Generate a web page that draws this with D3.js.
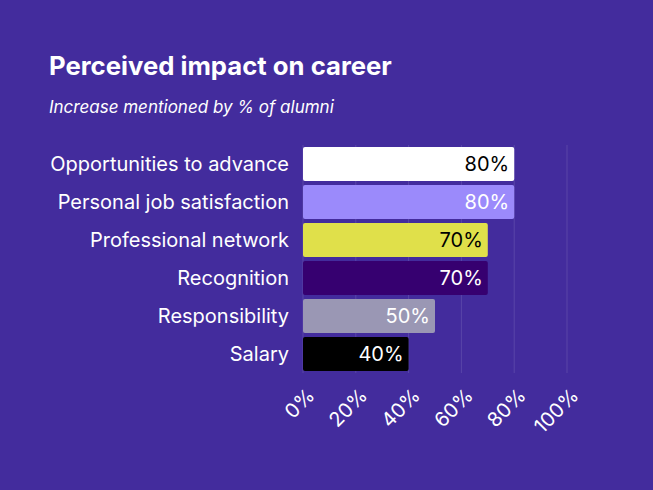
<!DOCTYPE html>
<html>
<head>
<meta charset="utf-8">
<script src="https://cdn.jsdelivr.net/npm/d3@7"></script>
<style>
  body { margin: 0; background: #432c9d; }
  svg { display: block; font-family: Inter, "Noto Sans", sans-serif; }
</style>
</head>
<body>
<svg id="chart"></svg>
<script>
// Perceived impact on career - horizontal bars
const categories = ["Opportunities to advance", "Personal job satisfaction", "Professional network", "Recognition", "Responsibility", "Salary"];
const values = [80, 80, 70, 70, 50, 40];
const barColors = ["#ffffff", "#9b8afb", "#e0e04a", "#360070", "#9a97b4", "#000000"];
const labelColors = ["#000000", "#ffffff", "#000000", "#ffffff", "#ffffff", "#ffffff"];
const ticks = [0, 20, 40, 60, 80, 100];

const width = 653;
const height = 490;
const margin = { top: 145, left: 303, right: 86, bottom: 117 };

const svg = d3.select("#chart")
    .attr("width", width)
    .attr("height", height);

svg.append("rect")
    .attr("width", width)
    .attr("height", height)
    .attr("fill", "#432c9d");

svg.append("text")
    .attr("x", 49)
    .attr("y", 75)
    .attr("fill", "#fff")
    .attr("font-size", 25.7)
    .attr("font-weight", 700)
    .text("Perceived impact on career");

svg.append("text")
    .attr("x", 49)
    .attr("y", 113)
    .attr("fill", "#fff")
    .attr("font-size", 17)
    .attr("font-style", "italic")
    .text("Increase mentioned by % of alumni");

const x = d3.scaleLinear()
    .domain([0, 100])
    .range([margin.left, width - margin.right]);

const y = d3.scaleBand()
    .domain(categories)
    .range([margin.top, height - margin.bottom])
    .paddingInner(0.1)
    .paddingOuter(0.05);

// grid lines
svg.append("g")
    .selectAll("line")
    .data(ticks)
    .join("line")
    .attr("x1", d => x(d))
    .attr("x2", d => x(d))
    .attr("y1", margin.top)
    .attr("y2", height - margin.bottom)
    .attr("stroke", "rgba(255,255,255,0.12)")
    .attr("stroke-width", 1);

// bars
svg.append("g")
    .selectAll("rect")
    .data(categories)
    .join("rect")
    .attr("x", x(0))
    .attr("y", d => y(d))
    .attr("width", (d, i) => x(values[i]) - x(0))
    .attr("height", y.bandwidth())
    .attr("rx", 2)
    .attr("fill", (d, i) => barColors[i]);

// value labels
svg.append("g")
    .selectAll("text")
    .data(categories)
    .join("text")
    .attr("x", (d, i) => x(values[i]) - 5)
    .attr("y", d => y(d) + y.bandwidth() / 2)
    .attr("dy", "0.36em")
    .attr("text-anchor", "end")
    .attr("font-size", 20)
    .attr("fill", (d, i) => labelColors[i])
    .text((d, i) => values[i] + "%");

// category labels
svg.append("g")
    .selectAll("text")
    .data(categories)
    .join("text")
    .attr("x", x(0) - 14)
    .attr("y", d => y(d) + y.bandwidth() / 2)
    .attr("dy", "0.36em")
    .attr("text-anchor", "end")
    .attr("font-size", 20)
    .attr("fill", "#fff")
    .text(d => d);

// x tick labels, rotated
svg.append("g")
    .selectAll("text")
    .data(ticks)
    .join("text")
    .attr("transform", d => `translate(${x(d) + 3},${height - margin.bottom + 14}) rotate(-45)`)
    .attr("text-anchor", "end")
    .attr("dy", "0.7em")
    .attr("font-size", 20)
    .attr("fill", "#fff")
    .text(d => d + "%");
</script>
</body>
</html>
